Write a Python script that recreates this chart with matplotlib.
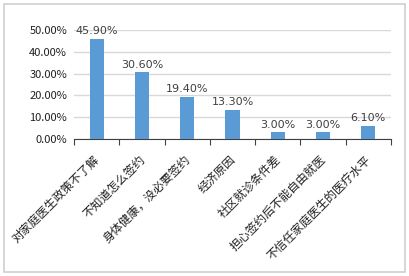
import matplotlib
matplotlib.use("Agg")
import matplotlib.pyplot as plt
from matplotlib.patches import Rectangle

plt.rcParams['font.family'] = ['Noto Sans CJK SC', 'DejaVu Sans']

# Données
categories = ["对家庭医生政策不了解", "不知道怎么签约", "身体健康，没必要签约",
              "经济原因", "社区就诊条件差", "担心签约后不能自由就医",
              "不信任家庭医生的医疗水平"]
valeurs = [45.90, 30.60, 19.40, 13.30, 3.00, 3.00, 6.10]
yticks = [0, 10, 20, 30, 40, 50]

fig = plt.figure(figsize=(4.09, 2.76), dpi=100)
ax = fig.add_axes([74/409, 1 - 139/276, (391 - 74)/409, (139 - 30)/276])

# cadre extérieur
fig.patches.append(Rectangle((4/409, 4/276), 401/409, 268/276, transform=fig.transFigure,
                             fill=False, edgecolor='#d0d0d0', linewidth=1.2))

x = range(len(categories))
ax.bar(x, valeurs, width=0.31, color='#5b9bd5', zorder=3)

for xi, v in zip(x, valeurs):
    ax.text(xi, v + 1.2, "%.2f%%" % v, ha='center', va='bottom', fontsize=8,
            color='#404040', family='DejaVu Sans', zorder=4)

ax.set_xlim(-0.5, len(categories) - 0.5)
ax.set_ylim(0, 50)
ax.set_yticks(yticks)
ax.set_yticklabels(["%.2f%%" % t for t in yticks], fontsize=8, color='#202020')
ax.yaxis.grid(True, color='#d9d9d9', linewidth=1, zorder=0)
ax.tick_params(axis='y', length=0, pad=5)

# ticks entre catégories
ax.set_xticks([i - 0.5 for i in range(len(categories) + 1)])
ax.set_xticklabels([])
ax.tick_params(axis='x', direction='out', length=4, color='#404040', width=0.8)

for xi, c in zip(x, categories):
    ax.text(xi - 0.08, -6.5, c, rotation=45, ha='right', va='top', rotation_mode='anchor',
            fontsize=8.5, color='#202020')

for s in ['left', 'right', 'top']:
    ax.spines[s].set_visible(False)
ax.spines['bottom'].set_color('#404040')
ax.spines['bottom'].set_linewidth(0.8)

fig.savefig("out.png", dpi=100)
